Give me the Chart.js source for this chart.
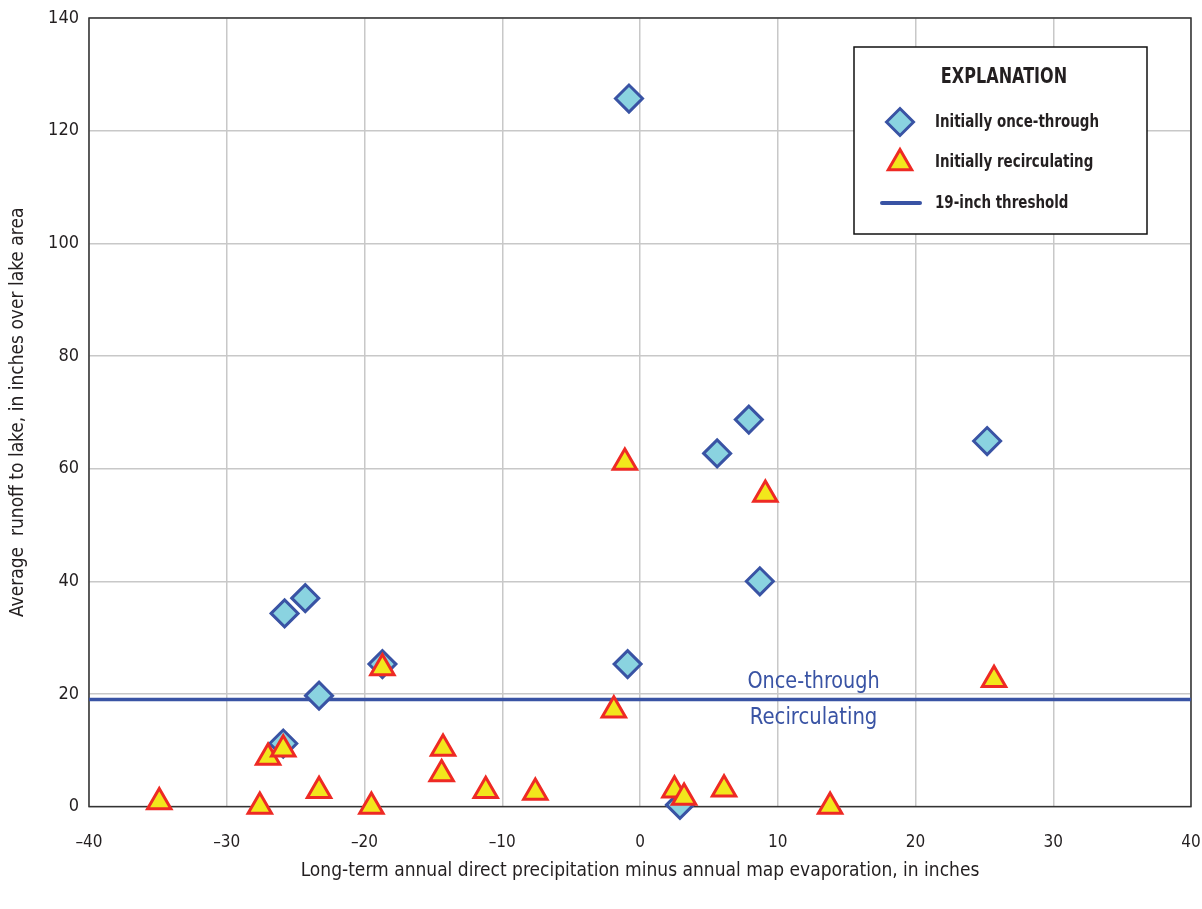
<!DOCTYPE html>
<html>
<head>
<meta charset="utf-8">
<script src="https://cdn.jsdelivr.net/npm/chart.js@4/dist/chart.umd.min.js"></script>
<style>
  html, body { margin: 0; padding: 0; background: #fff; }
  #wrap { width: 1202px; height: 909px; }
</style>
</head>
<body>
<div id="wrap"><canvas id="chart" width="1202" height="909"></canvas></div>
<script>
const FONT = '"Liberation Sans Narrow", "DejaVu Sans Condensed", "Liberation Sans", sans-serif';
const TEXT = '#231f20';
const BLUE = '#3953a4';

// Lakes that started out once-through
const onceX = [-0.8, 7.9, 5.6, 25.2, 8.7, -0.9, -24.3, -25.8, -18.7, -23.3, -25.9, 2.9];
const onceY = [125.7, 68.7, 62.7, 64.9, 40.0, 25.3, 37.0, 34.3, 25.3, 19.7, 11.2, 0.3];

// Lakes that started out recirculating
const recircX = [-34.9, -27.6, -23.3, -19.5, -27.0, -25.9, -18.7, -14.3, -14.4, -11.2, -7.6, -1.9, 2.5, 3.2, 6.1, 13.8, -1.1, 9.1, 25.7];
const recircY = [0.8, 0, 2.8, 0, 8.7, 10.2, 24.6, 10.3, 5.8, 2.8, 2.5, 17.1, 2.9, 1.6, 3.1, 0, 61.1, 55.4, 22.5];

const threshold = 19;
const xRange = [-40, 40];
const yRange = [0, 140];
const thresholdLabelX = 12.6;

const toPoints = (xs, ys) => xs.map((x, i) => ({ x: x, y: ys[i] }));

// squeeze text horizontally so it reads like a condensed face
function fillNarrow(ctx, text, x, y, sx) {
  ctx.save();
  ctx.translate(x, y);
  ctx.scale(sx, 1);
  ctx.fillText(text, 0, 0);
  ctx.restore();
}

// frame around the plot area, under the markers
const framePlugin = {
  id: 'frame',
  beforeDatasetsDraw(chart) {
    const { ctx, chartArea: a } = chart;
    ctx.save();
    ctx.strokeStyle = '#333';
    ctx.lineWidth = 1.5;
    ctx.strokeRect(a.left, a.top, a.right - a.left, a.bottom - a.top);
    ctx.restore();
  }
};

// "Once-through" / "Recirculating" on either side of the threshold
const thresholdLabels = {
  id: 'thresholdLabels',
  afterDatasetsDraw(chart) {
    const { ctx, scales } = chart;
    const x = scales.x.getPixelForValue(thresholdLabelX);
    const y = scales.y.getPixelForValue(threshold);
    ctx.save();
    ctx.fillStyle = BLUE;
    ctx.font = '23px ' + FONT;
    ctx.textAlign = 'center';
    ctx.textBaseline = 'middle';
    fillNarrow(ctx, 'Once-through', x, y - 18, 0.93);
    fillNarrow(ctx, 'Recirculating', x, y + 18, 0.95);
    ctx.restore();
  }
};

// boxed explanation in the upper right
const explanation = {
  id: 'explanation',
  afterDraw(chart) {
    const ctx = chart.ctx;
    const left = 854, top = 47, w = 293, h = 187;
    ctx.save();
    ctx.fillStyle = '#fff';
    ctx.fillRect(left, top, w, h);
    ctx.strokeStyle = '#111';
    ctx.lineWidth = 1.5;
    ctx.strokeRect(left, top, w, h);

    ctx.fillStyle = TEXT;
    ctx.textBaseline = 'middle';
    ctx.textAlign = 'center';
    ctx.font = 'bold 21px ' + FONT;
    fillNarrow(ctx, 'EXPLANATION', left + 150, top + 31, 0.85);

    const mx = left + 46, tx = left + 81;
    ctx.lineWidth = 3;
    ctx.strokeStyle = BLUE;
    ctx.fillStyle = '#8ad3e0';
    Chart.helpers.drawPoint(ctx, { pointStyle: 'rectRot', radius: 13.5, rotation: 0, borderWidth: 3 }, mx, top + 75);
    ctx.strokeStyle = '#ee2a24';
    ctx.fillStyle = '#f2e71c';
    Chart.helpers.drawPoint(ctx, { pointStyle: 'triangle', radius: 13.5, rotation: 0, borderWidth: 3 }, mx, top + 116);
    ctx.strokeStyle = BLUE;
    ctx.lineWidth = 4;
    ctx.lineCap = 'round';
    ctx.beginPath();
    ctx.moveTo(left + 28, top + 156);
    ctx.lineTo(left + 66, top + 156);
    ctx.stroke();

    ctx.fillStyle = TEXT;
    ctx.textAlign = 'left';
    ctx.font = 'bold 18px ' + FONT;
    fillNarrow(ctx, 'Initially once-through', tx, top + 75, 0.83);
    fillNarrow(ctx, 'Initially recirculating', tx, top + 115, 0.83);
    fillNarrow(ctx, '19-inch threshold', tx, top + 156, 0.83);
    ctx.restore();
  }
};

const ctx = document.getElementById('chart').getContext('2d');
const chart = new Chart(ctx, {
  type: 'scatter',
  data: {
    datasets: [
      {
        label: 'Initially recirculating',
        data: toPoints(recircX, recircY),
        pointStyle: 'triangle',
        pointRadius: 13.5,
        pointHoverRadius: 13.5,
        backgroundColor: '#f2e71c',
        borderColor: '#ee2a24',
        borderWidth: 3,
        clip: false
      },
      {
        label: 'Initially once-through',
        data: toPoints(onceX, onceY),
        pointStyle: 'rectRot',
        pointRadius: 13.5,
        pointHoverRadius: 13.5,
        backgroundColor: '#8ad3e0',
        borderColor: BLUE,
        borderWidth: 3,
        clip: false
      },
      {
        type: 'line',
        label: '19-inch threshold',
        data: [{ x: xRange[0], y: threshold }, { x: xRange[1], y: threshold }],
        borderColor: BLUE,
        borderWidth: 3.5,
        pointRadius: 0,
        fill: false
      }
    ]
  },
  options: {
    responsive: false,
    animation: false,
    layout: { autoPadding: false, padding: { left: 0, top: 18, right: 11, bottom: 0 } },
    plugins: {
      legend: { display: false },
      tooltip: { enabled: false }
    },
    scales: {
      x: {
        type: 'linear',
        min: xRange[0],
        max: xRange[1],
        afterFit(scale) {
          scale.height = 102.4;
          scale.paddingLeft = 0;
          scale.paddingRight = 0;
        },
        grid: { color: '#c8c8c8', lineWidth: 1.5, drawTicks: false },
        border: { display: false },
        ticks: {
          stepSize: 10,
          padding: 26,
          color: TEXT,
          font: { family: FONT, size: 17 },
          callback: v => (v < 0 ? '\u2013' + Math.abs(v) : String(v))
        },
        title: {
          display: true,
          text: 'Long-term annual direct precipitation minus annual map evaporation, in inches',
          color: TEXT,
          font: { family: FONT, size: 19 },
          padding: { top: 0, bottom: 27 }
        }
      },
      y: {
        type: 'linear',
        min: yRange[0],
        max: yRange[1],
        afterFit(scale) {
          scale.width = 89;
          scale.paddingTop = 0;
          scale.paddingBottom = 0;
        },
        grid: { color: '#c8c8c8', lineWidth: 1.5, drawTicks: false },
        border: { display: false },
        ticks: {
          stepSize: 20,
          padding: 10,
          color: TEXT,
          font: { family: FONT, size: 18 }
        },
        title: {
          display: true,
          text: 'Average  runoff to lake, in inches over lake area',
          color: TEXT,
          font: { family: FONT, size: 19 },
          padding: { top: 7, bottom: 0 }
        }
      }
    }
  },
  plugins: [framePlugin, thresholdLabels, explanation]
});
</script>
</body>
</html>
